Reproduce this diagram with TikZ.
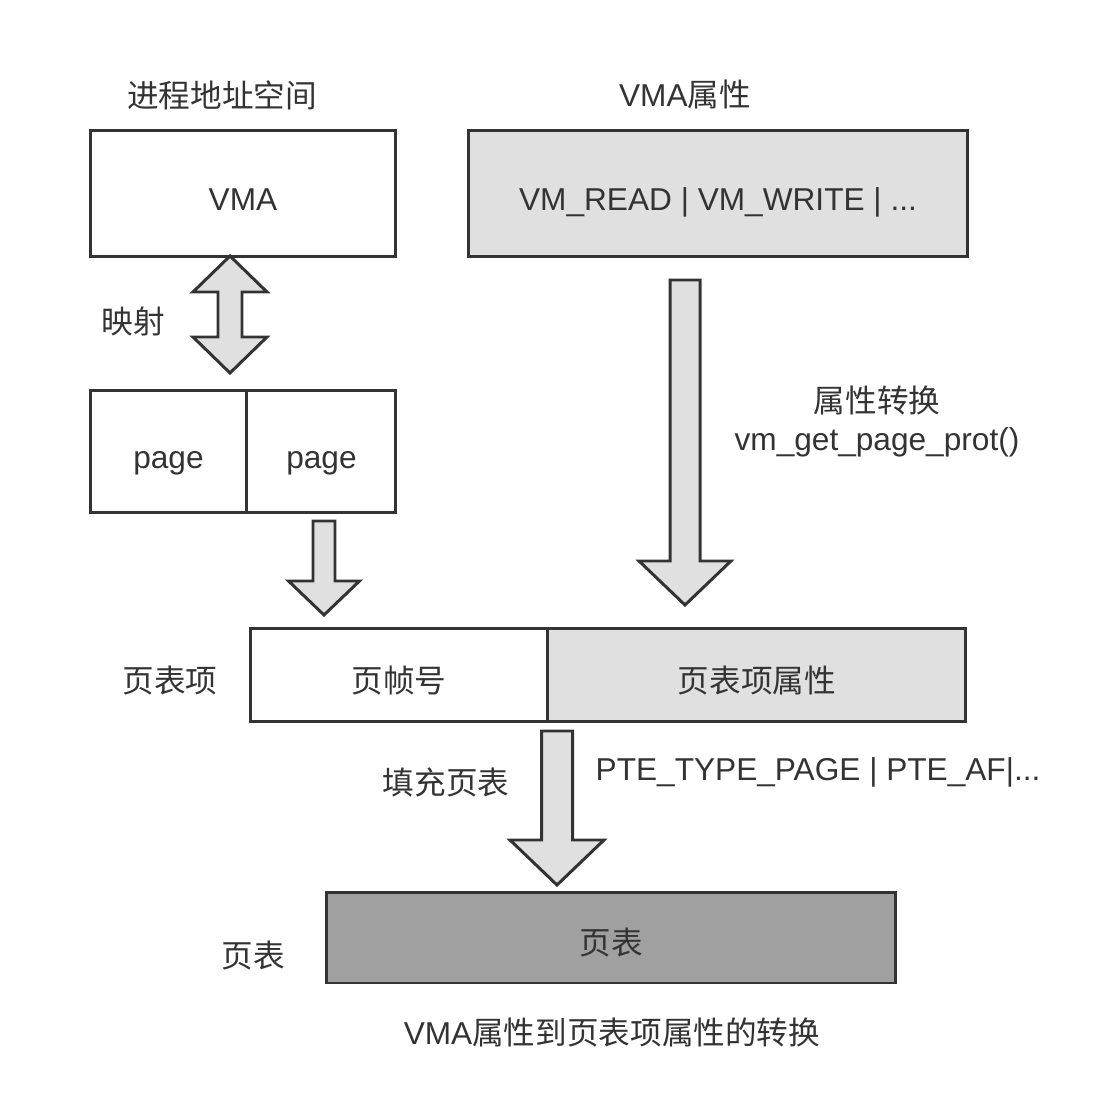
\documentclass[tikz,border=0pt]{standalone}
\usepackage{fontspec}
\setmainfont{Liberation Sans}
\newfontfamily\cjk{Noto Sans CJK SC}
\usepackage{tikz}
\usetikzlibrary{positioning,calc}

\definecolor{linegray}{HTML}{333333}
\definecolor{lightfill}{HTML}{E0E0E0}
\definecolor{darkfill}{HTML}{A0A0A0}

% hollow block arrows: start, tip, half shaft, half head, head length
\newcommand{\blockdown}[5]{%
  \draw[blockarrow] ($(#1)+(-#3,0)$) -- ($(#1)+(#3,0)$) -- ($(#2)+(#3,-#5)$) -- ($(#2)+(#4,-#5)$)
    -- (#2) -- ($(#2)+(-#4,-#5)$) -- ($(#2)+(-#3,-#5)$) -- cycle;}
\newcommand{\blockboth}[5]{%
  \draw[blockarrow] (#1) -- ($(#1)+(#4,#5)$) -- ($(#1)+(#3,#5)$) -- ($(#2)+(#3,-#5)$) -- ($(#2)+(#4,-#5)$)
    -- (#2) -- ($(#2)+(-#4,-#5)$) -- ($(#2)+(-#3,-#5)$) -- ($(#1)+(-#3,#5)$) -- ($(#1)+(-#4,#5)$) -- cycle;}

\begin{document}
\begin{tikzpicture}[x=0.02cm, y=-0.02cm,
    box/.style={draw=linegray, line width=1.7pt, fill=white, outer sep=0pt, text=linegray,
      text height=19.7pt, text depth=0pt, font=\fontsize{18}{22}\selectfont},
    lbl/.style={text=linegray, font=\fontsize{18}{22}\selectfont, inner sep=0pt},
    blockarrow/.style={draw=linegray, line width=1.7pt, fill=lightfill}]
    \useasboundingbox (0,0) rectangle (1119,1114);

    \node[lbl] (spacetitle) at (222,95) {\cjk 进程地址空间};
    \node[lbl] (attrtitle) at (685,95) {VMA{\cjk 属性}};

    \node[box, minimum width=6.12cm, minimum height=2.54cm] (vma) at (243,193.5) {VMA};
    \node[box, fill=lightfill, minimum width=10cm, minimum height=2.54cm] (vmaattr) at (718,193.5) {VM\_READ | VM\_WRITE | ...};

    \node[box, minimum width=3.14cm, minimum height=2.46cm] (page1) at (168.5,451.5) {page};
    \node[box, minimum width=2.98cm, minimum height=2.46cm, right=0pt of page1] (page2) {page};

    \node[box, minimum width=5.96cm, minimum height=1.88cm] (pfn) at (399,675) {\cjk 页帧号};
    \node[box, fill=lightfill, minimum width=8.36cm, minimum height=1.88cm, right=0pt of pfn] (pteattr) {\cjk 页表项属性};

    \node[box, fill=darkfill, minimum width=11.4cm, minimum height=1.82cm] (pgtable) at (611,937.5) {\cjk 页表};

    \node[lbl] (maplbl) at (133,322) {\cjk 映射};
    \node[lbl] (convlbl) at (877,400) {\cjk 属性转换};
    \node[lbl] (funclbl) at (877,442) {vm\_get\_page\_prot()};
    \node[lbl] (ptelbl) at (170,681) {\cjk 页表项};
    \node[lbl] (filllbl) at (446,782) {\cjk 填充页表};
    \node[lbl] (flaglbl) at (818,772) {PTE\_TYPE\_PAGE | PTE\_AF|...};
    \node[lbl] (tablelbl) at (253,956) {\cjk 页表};
    \node[lbl] (caption) at (612,1032) {VMA{\cjk 属性到页表项属性的转换}};

    \coordinate (m1) at (230,256);
    \coordinate (m2) at (230,373);
    \coordinate (p1) at (324,521);
    \coordinate (p2) at (324,615);
    \coordinate (c1) at (685,280);
    \coordinate (c2) at (685,605);
    \coordinate (f1) at (557,731);
    \coordinate (f2) at (557,885);

    \blockboth{m1}{m2}{12}{37}{36}
    \blockdown{p1}{p2}{11}{35.5}{34}
    \blockdown{c1}{c2}{15}{46}{44}
    \blockdown{f1}{f2}{15.5}{47}{45}
\end{tikzpicture}
\end{document}
